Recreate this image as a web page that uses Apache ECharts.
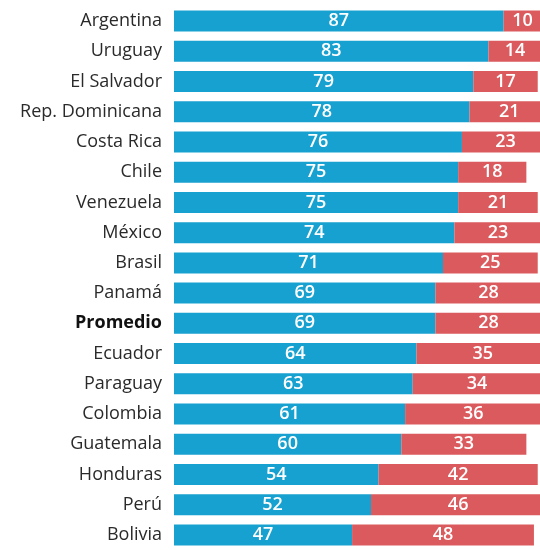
<!DOCTYPE html>
<html>
<head>
<meta charset="utf-8">
<script src="https://cdn.jsdelivr.net/npm/echarts@6/dist/echarts.min.js"></script>
<style>
html,body{margin:0;padding:0;background:#ffffff;}
#chart{width:540px;height:550px;}
</style>
</head>
<body>
<div id="chart"></div>
<script>
var categories = ["Argentina","Uruguay","El Salvador","Rep. Dominicana","Costa Rica","Chile","Venezuela","México","Brasil","Panamá","Promedio","Ecuador","Paraguay","Colombia","Guatemala","Honduras","Perú","Bolivia"];
var blueValues = [87,83,79,78,76,75,75,74,71,69,69,64,63,61,60,54,52,47];
var redValues = [10,14,17,21,23,18,21,23,25,28,28,35,34,36,33,42,46,48];

var chart = echarts.init(document.getElementById('chart'));
var labelStyle = {
  show: true,
  position: 'inside',
  color: '#ffffff',
  fontFamily: 'Open Sans',
  fontSize: 18,
  fontWeight: 600
};
chart.setOption({
  backgroundColor: '#ffffff',
  animation: false,
  grid: {left: 174, right: 0, top: 6, height: 547},
  xAxis: {type: 'value', min: 0, max: 96.6, show: false},
  yAxis: {
    type: 'category',
    data: categories,
    inverse: true,
    axisLine: {show: false},
    axisTick: {show: false},
    axisLabel: {
      margin: 12,
      fontFamily: 'Open Sans',
      fontSize: 18,
      color: '#2a2a2a',
      formatter: function (v) { return v === 'Promedio' ? '{b|' + v + '}' : v; },
      rich: {b: {fontFamily: 'Open Sans', fontSize: 18, fontWeight: 'bold', color: '#111'}}
    }
  },
  series: [
    {
      type: 'bar', stack: 't', data: blueValues, barWidth: 21, clip: false,
      itemStyle: {color: '#17a1d0'},
      label: labelStyle
    },
    {
      type: 'bar', stack: 't', data: redValues, barWidth: 21, clip: false,
      itemStyle: {color: '#db5a5d'},
      label: labelStyle
    }
  ]
});
</script>
</body>
</html>
